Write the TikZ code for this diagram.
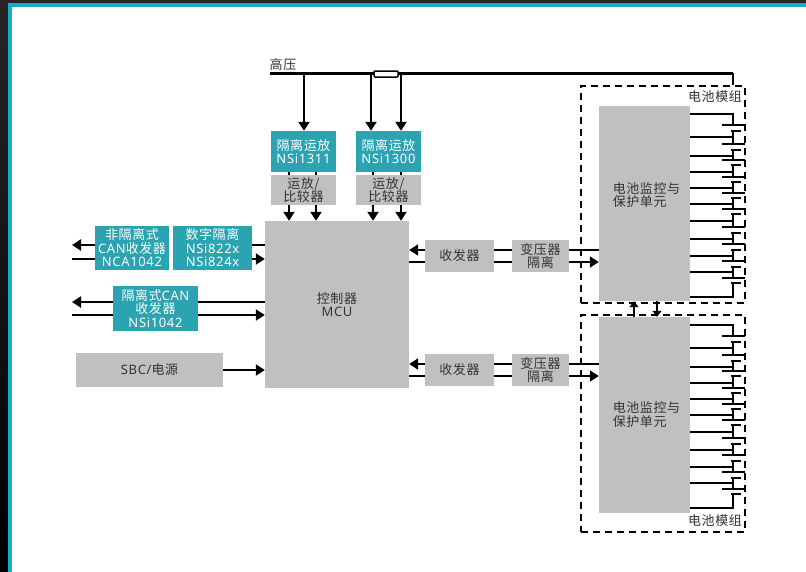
\documentclass[tikz,border=0pt]{standalone}
\usepackage{fontspec}
\setmainfont[LetterSpace=4]{Noto Sans CJK SC}
\newfontfamily\enfont[LetterSpace=5]{Noto Sans}
\usetikzlibrary{arrows.meta}
\definecolor{boxteal}{HTML}{2BA3B1}
\definecolor{boxgrey}{HTML}{BFC0C2}
\definecolor{frameteal}{HTML}{14AEC8}
\definecolor{labelgrey}{HTML}{333333}
\tikzset{
  tealbox/.style={fill=boxteal,text=white,inner sep=0pt,align=center},
  greybox/.style={fill=boxgrey,text=labelgrey,inner sep=0pt,align=center},
  packbox/.style={draw=black,line width=1.7pt,dash pattern=on 7pt off 5pt,inner sep=0pt},
  plainlabel/.style={text=labelgrey,inner sep=0pt,align=left},
  wire/.style={line width=2.4pt,black},
  hvwire/.style={line width=3pt,black},
  bigtip/.style={-{Triangle[length=9pt,width=11pt]}},
  smalltip/.style={-{Triangle[length=6pt,width=9pt]}}
}
\begin{document}
\begin{tikzpicture}[x=1pt,y=-1pt,every node/.style={font=\fontsize{13}{13.5}\selectfont}]
% page, frame
\useasboundingbox (0,0) rectangle (806,571);
\fill[top color=black!85,bottom color=black] (-5,-5) rectangle (815,580);
\fill[frameteal] (8,3) rectangle (815,580);
\fill[white] (12,7) rectangle (815,580);
% amplifier row
\node[tealbox,minimum width=65pt,minimum height=41pt] (n1311) at (303.5,151.5) {隔离运放\\{\enfont NSi1311}};
\node[tealbox,minimum width=65pt,minimum height=41pt] (n1300) at (388.5,151.5) {隔离运放\\{\enfont NSi1300}};
\node[greybox,minimum width=65pt,minimum height=30pt] (cmpA) at (303.5,190) {运放/\\比较器};
\node[greybox,minimum width=65pt,minimum height=30pt] (cmpB) at (388.5,190) {运放/\\比较器};
% controller and left side
\node[greybox,minimum width=144pt,minimum height=167pt] (mcu) at (337,304.5) {控制器\\{\enfont MCU}};
\node[tealbox,minimum width=74pt,minimum height=44pt] (nca1042) at (132,248) {非隔离式\\{\enfont CAN}收发器\\{\enfont NCA1042}};
\node[tealbox,minimum width=79pt,minimum height=44pt] (nsi822) at (212.5,248) {数字隔离\\{\enfont NSi822x}\\{\enfont NSi824x}};
\node[tealbox,minimum width=85pt,minimum height=45pt] (nsi1042) at (155.5,308.5) {隔离式{\enfont CAN}\\收发器\\{\enfont NSi1042}};
\node[greybox,minimum width=147pt,minimum height=34pt] (sbc) at (149.5,370) {{\enfont SBC/}电源};
% right side
\node[greybox,minimum width=69pt,minimum height=32pt] (rxA) at (459.5,256) {收发器};
\node[greybox,minimum width=69pt,minimum height=32pt] (rxB) at (459.5,370) {收发器};
\node[greybox,minimum width=57pt,minimum height=32pt] (xfmrA) at (540.5,256) {变压器\\隔离};
\node[greybox,minimum width=57pt,minimum height=32pt] (xfmrB) at (540.5,370) {变压器\\隔离};
\node[greybox,minimum width=91pt,minimum height=195pt] (monA) at (644.5,203.5) {};
\node[greybox,minimum width=91pt,minimum height=196pt] (monB) at (644.5,415) {};
\node[plainlabel] (monlabelA) at (646.5,195) {电池监控与\\保护单元};
\node[plainlabel] (monlabelB) at (646.5,414.5) {电池监控与\\保护单元};
\node[packbox,minimum width=164pt,minimum height=217pt] (packA) at (663,194.5) {};
\node[packbox,minimum width=164pt,minimum height=217pt] (packB) at (663,423.5) {};
\node[plainlabel] (packlabelA) at (715,97) {电池模组};
\node[plainlabel] (packlabelB) at (715,521) {电池模组};
% high voltage rail
\node[plainlabel] (hvlabel) at (283,65) {高压};
\coordinate (hvl) at (270,73);
\coordinate (hvr) at (733,73);
\draw[hvwire] (hvl)--(hvr);
\draw[wire] (hvr)--(hvr |- packA.north);
\node[draw=black,fill=white,line width=1.5pt,rounded corners=1pt,minimum width=24pt,minimum height=6pt,inner sep=0pt] (fuse) at (386,74) {};
\foreach \x/\v in {304/n1311,371/n1300,401/n1300} {
  \coordinate (tee) at (\x,73);
  \draw[wire,bigtip] (tee)--(tee |- \v.north);
}
\foreach \x/\u/\v in {289/n1311/cmpA,316/n1311/cmpA,373/n1300/cmpB,401/n1300/cmpB} {
  \coordinate (drop) at (\x,190);
  \draw[wire] (drop |- \u.south)--(drop |- \v.north);
  \draw[wire,bigtip] (drop |- \v.south)--(drop |- mcu.north);
}
% CAN lines
\coordinate (canA) at (72,245);
\coordinate (canB) at (72,259);
\coordinate (isoA) at (72,302);
\coordinate (isoB) at (72,315);
\draw[wire,bigtip] (nca1042.west |- canA)--(canA);
\draw[wire] (canB)--(nca1042.west |- canB);
\draw[wire] (nsi822.east |- canA)--(mcu.west |- canA);
\draw[wire,bigtip] (nsi822.east |- canB)--(mcu.west |- canB);
\draw[wire,bigtip] (nsi1042.west |- isoA)--(isoA);
\draw[wire] (isoB)--(nsi1042.west |- isoB);
\draw[wire] (nsi1042.east |- isoA)--(mcu.west |- isoA);
\draw[wire,bigtip] (nsi1042.east |- isoB)--(mcu.west |- isoB);
\draw[wire,bigtip] (sbc.east)--(mcu.west |- sbc.east);
% links to the modules
\foreach \m/\u/\v in {A/250/262,B/364/376} {
  \coordinate (up) at (500,\u);
  \coordinate (dn) at (500,\v);
  \draw[wire,bigtip] (rx\m.west |- up)--(mcu.east |- up);
  \draw[wire] (mcu.east |- dn)--(rx\m.west |- dn);
  \draw[wire] (rx\m.east |- up)--(xfmr\m.west |- up);
  \draw[wire] (rx\m.east |- dn)--(xfmr\m.west |- dn);
  \draw[wire] (xfmr\m.east |- up)--(mon\m.west |- up);
  \draw[wire,bigtip] (xfmr\m.east |- dn)--(mon\m.west |- dn);
}
\coordinate (linkup) at (634,309);
\coordinate (linkdn) at (657,309);
\draw[wire,smalltip] (linkup |- monB.north)--(linkup |- monA.south);
\draw[wire,smalltip] (linkdn |- monA.south)--(linkdn |- monB.north);
% battery cells
\foreach \m/\dy in {A/0,B/211} {
  \begin{scope}[shift={(0,\dy)}]
  \foreach \t in {114,137,156,172,188,204,221,239,256,272,297} {
    \coordinate (tap) at (733,\t);
    \draw[wire] (mon\m.east |- tap)--(tap);
  }
  \foreach \a/\b in {113/125,131/144,150/160,165/177,182/193,198/209,214/227,233/244,250/261,267/278,283/298}
    \draw[wire] (733,\a)--(733,\b);
  \foreach \l/\s in {125/131,144/150,160/165,177/182,193/198,209/214,227/233,244/250,261/267,278/283} {
    \draw[wire] (722,\l)--(745,\l);
    \draw[wire] (731,\s)--(741,\s);
  }
  \end{scope}
}
\end{tikzpicture}
\end{document}
